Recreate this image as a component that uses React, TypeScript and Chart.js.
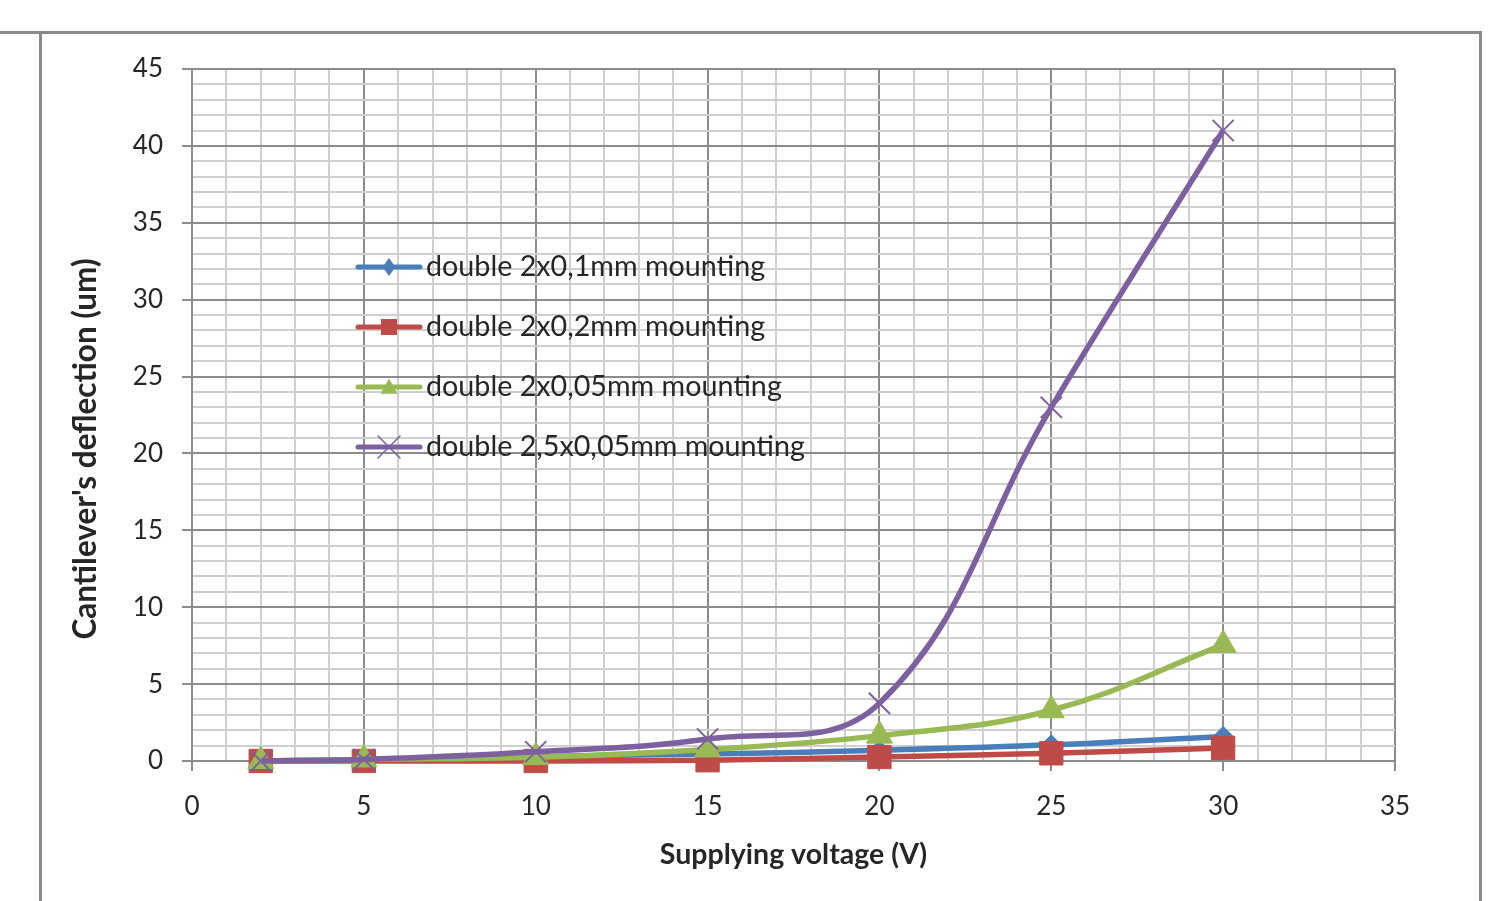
import React, { useEffect, useRef } from 'react';
import { Chart, registerables } from 'chart.js';

Chart.register(...registerables);

// ---- data ----
const voltages = [2, 5, 10, 15, 20, 25, 30];
const mount2x01 = [0, 0.1, 0.3, 0.45, 0.7, 1.05, 1.6];
const mount2x02 = [0, 0, 0, 0.05, 0.26, 0.5, 0.85];
const mount2x005 = [0, 0.1, 0.25, 0.75, 1.65, 3.3, 7.55];
const mount25x005 = [0, 0.1, 0.6, 1.43, 3.75, 23, 41];

const seriesLabels = [
  'double 2x0,1mm mounting',
  'double 2x0,2mm mounting',
  'double 2x0,05mm mounting',
  'double 2,5x0,05mm mounting',
];
const seriesColors = ['#4A7EBB', '#BE4B48', '#98B954', '#7D60A0'];
const seriesMarkers = ['rectRot', 'rect', 'triangle', 'crossRot'];

const xTitle = 'Supplying voltage (V)';
const yTitle = "Cantilever's deflection (um)";
const xMin = 0;
const xMax = 35;
const yMin = 0;
const yMax = 45;
const majorStep = 5;
const minorStep = 1;

const FONT = 'Lato, "Noto Sans", sans-serif';
const TEXT = '#262626';
const MAJOR = '#8c8c8c';
const MINOR = '#cfcfcf';

function drawMarker(ctx: CanvasRenderingContext2D, style: string, x: number, y: number, r: number, color: string) {
  ctx.save();
  ctx.fillStyle = color;
  ctx.strokeStyle = color;
  ctx.beginPath();
  if (style === 'rectRot') {
    ctx.moveTo(x, y - r);
    ctx.lineTo(x + r * 0.72, y);
    ctx.lineTo(x, y + r);
    ctx.lineTo(x - r * 0.72, y);
    ctx.closePath();
    ctx.fill();
  } else if (style === 'rect') {
    ctx.rect(x - r, y - r, 2 * r, 2 * r);
    ctx.fill();
  } else if (style === 'triangle') {
    ctx.moveTo(x, y - r);
    ctx.lineTo(x + r, y + r * 0.8);
    ctx.lineTo(x - r, y + r * 0.8);
    ctx.closePath();
    ctx.fill();
  } else {
    ctx.lineWidth = 1.5;
    ctx.moveTo(x - r, y - r);
    ctx.lineTo(x + r, y + r);
    ctx.moveTo(x + r, y - r);
    ctx.lineTo(x - r, y + r);
    ctx.stroke();
  }
  ctx.restore();
}

const legendPlugin = {
  id: 'innerLegend',
  afterDatasetsDraw(chart: any) {
    const { ctx, chartArea } = chart;
    const x0 = chartArea.left + 166;
    const y0 = chartArea.top + 198;
    const markerSizes = [9, 8, 8.5, 11];
    ctx.save();
    seriesLabels.forEach((label, i) => {
      const y = y0 + i * 60;
      ctx.strokeStyle = seriesColors[i];
      ctx.lineWidth = 5;
      ctx.lineCap = 'round';
      ctx.beginPath();
      ctx.moveTo(x0, y);
      ctx.lineTo(x0 + 62, y);
      ctx.stroke();
      drawMarker(ctx, seriesMarkers[i], x0 + 31, y, markerSizes[i], seriesColors[i]);
      ctx.fillStyle = TEXT;
      ctx.font = `28.7px ${FONT}`;
      ctx.textBaseline = 'middle';
      ctx.textAlign = 'left';
      ctx.fillText(label, x0 + 68, y);
    });
    ctx.restore();
  },
};

const yTitlePlugin = {
  id: 'yTitleText',
  afterDraw(chart: any) {
    const { ctx, chartArea } = chart;
    ctx.save();
    ctx.translate(chartArea.left - 106, chartArea.top + 380);
    ctx.rotate(-Math.PI / 2);
    ctx.fillStyle = TEXT;
    ctx.font = `bold 31.5px ${FONT}`;
    ctx.textAlign = 'center';
    ctx.textBaseline = 'middle';
    ctx.fillText(yTitle, 0, 0);
    ctx.restore();
  },
};

const gridColor = (c: any) => (c.tick && c.tick.value % majorStep === 0 ? MAJOR : MINOR);
const tickColor = (c: any) => (c.tick && c.tick.value % majorStep === 0 ? MAJOR : 'rgba(0,0,0,0)');
const tickLabel = (v: any) => (Number(v) % majorStep === 0 ? String(v) : '');

export default function App() {
  const ref = useRef<HTMLCanvasElement | null>(null);

  useEffect(() => {
    if (!ref.current) return;
    const seriesData = [mount2x01, mount2x02, mount2x005, mount25x005];
    const radii = [10, 16.5, 15, 15];
    const datasets = seriesData.map((vals, i) => ({
      label: seriesLabels[i],
      data: voltages.map((v, j) => ({ x: v, y: vals[j] })),
      borderColor: seriesColors[i],
      backgroundColor: seriesColors[i],
      borderWidth: 5.5,
      tension: 0.4,
      pointStyle: seriesMarkers[i],
      pointRadius: radii[i],
      pointBorderWidth: i === 3 ? 2 : 1,
      pointBorderColor: seriesColors[i],
      pointBackgroundColor: seriesColors[i],
      order: 4 - i,
      clip: false as any,
    }));

    const chart = new Chart(ref.current, {
      type: 'line',
      data: { datasets },
      plugins: [legendPlugin, yTitlePlugin],
      options: {
        animation: false,
        responsive: false,
        events: [],
        layout: { padding: { top: 69, right: 108, left: 0, bottom: 0 } },
        plugins: { legend: { display: false }, tooltip: { enabled: false } },
        scales: {
          x: {
            type: 'linear',
            min: xMin,
            max: xMax,
            afterFit: (s: any) => {
              s.height = 140;
            },
            ticks: {
              stepSize: minorStep,
              autoSkip: false,
              maxRotation: 0,
              padding: 20,
              color: TEXT,
              font: { family: FONT, size: 26 },
              callback: tickLabel,
            },
            grid: { color: gridColor, lineWidth: 2, tickLength: 10, tickColor, tickWidth: 2 },
            border: { color: MAJOR, width: 2 },
            title: {
              display: true,
              text: xTitle,
              color: TEXT,
              font: { family: FONT, size: 28.5, weight: 'bold' },
              padding: { top: 0, bottom: 29 },
            },
          },
          y: {
            type: 'linear',
            min: yMin,
            max: yMax,
            afterFit: (s: any) => {
              s.width = 192;
            },
            ticks: {
              stepSize: minorStep,
              autoSkip: false,
              padding: 19,
              color: TEXT,
              font: { family: FONT, size: 26 },
              callback: tickLabel,
            },
            grid: { color: gridColor, lineWidth: 2, tickLength: 10, tickColor, tickWidth: 2 },
            border: { color: MAJOR, width: 2 },
            title: { display: false },
          },
        },
      } as any,
    });
    return () => chart.destroy();
  }, []);

  return (
    <div style={{ position: 'fixed', left: 0, top: 0, width: 1503, height: 901, background: '#fff', overflow: 'hidden' }}>
      <div style={{ position: 'absolute', left: 0, top: 31, width: 1482, height: 0, borderTop: '3px solid #8a8a8a' }} />
      <div style={{ position: 'absolute', left: 39, top: 31, width: 0, height: 880, borderLeft: '3px solid #8a8a8a' }} />
      <div style={{ position: 'absolute', left: 1479, top: 31, width: 0, height: 880, borderLeft: '3px solid #8a8a8a' }} />
      <canvas ref={ref} width={1503} height={901} style={{ position: 'absolute', left: 0, top: 0, display: 'block' }} />
    </div>
  );
}
